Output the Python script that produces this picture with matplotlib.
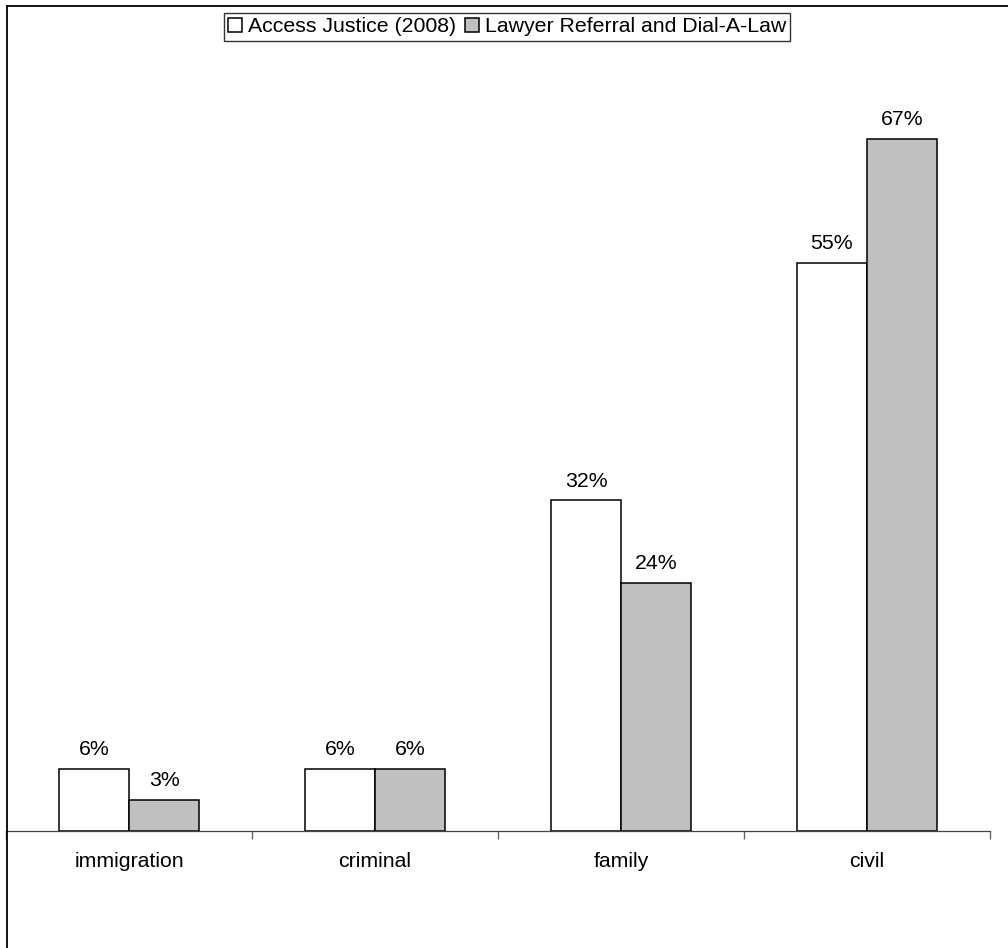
import numpy as np
import matplotlib
matplotlib.use("Agg")
import matplotlib.pyplot as plt
from matplotlib.lines import Line2D

categories = ["immigration", "criminal", "family", "civil"]
access_justice = [6, 6, 32, 55]
lawyer_referral = [3, 6, 24, 67]
series_names = ["Access Justice (2008)", "Lawyer Referral and Dial-A-Law"]

plt.rcParams["font.family"] = ["Liberation Sans", "DejaVu Sans"]
FS = 15.3

W, H = 1008, 948
fig = plt.figure(figsize=(W / 100, H / 100), dpi=100)

# axes placed in pixel terms: baseline at y=831, x from 6 to 990
left, right, base, top = 6, 990, 831, 8
ax = fig.add_axes([left / W, (H - base) / H, (right - left) / W, (base - top) / H])

x = np.arange(len(categories))
bw = 0.285
b1 = ax.bar(x - bw / 2, access_justice, bw, color="white", edgecolor="black", linewidth=1.1, label=series_names[0])
b2 = ax.bar(x + bw / 2, lawyer_referral, bw, color="#c0c0c0", edgecolor="black", linewidth=1.1, label=series_names[1])

for bars, vals in ((b1, access_justice), (b2, lawyer_referral)):
    for r, v in zip(bars, vals):
        ax.annotate(f"{v}%", (r.get_x() + r.get_width() / 2, v), xytext=(0, 7),
                    textcoords="offset points", ha="center", va="bottom", fontsize=FS)

ax.set_xlim(-0.5, len(categories) - 0.5)
ax.set_ylim(0, (base - top) / 10.33)

for s in ("top", "right", "left"):
    ax.spines[s].set_visible(False)
ax.spines["bottom"].set_color("#444444")
ax.spines["bottom"].set_linewidth(0.9)
ax.set_yticks([])

ax.set_xticks(x)
ax.set_xticklabels(categories, fontsize=FS)
ax.tick_params(axis="x", which="major", length=0, pad=15)
ax.set_xticks(np.arange(-0.5, len(categories)), minor=True)
ax.tick_params(axis="x", which="minor", length=6, width=1, color="#666666")

leg = ax.legend(loc="upper center", bbox_to_anchor=(507 / W, 1 - 13 / H), bbox_transform=fig.transFigure,
                ncol=2, fontsize=FS, frameon=True, fancybox=False, handlelength=0.65, handleheight=0.65,
                handletextpad=0.3, columnspacing=0.4, borderpad=0.2, borderaxespad=0)
leg.get_frame().set_edgecolor("black")
leg.get_frame().set_linewidth(1.0)

# outer frame lines (left and top)
fig.add_artist(Line2D([7 / W, 7 / W], [0, 1 - 6 / H], color="black", linewidth=1.3, transform=fig.transFigure))
fig.add_artist(Line2D([7 / W, 1], [1 - 6 / H, 1 - 6 / H], color="black", linewidth=1.3, transform=fig.transFigure))

fig.savefig("out.png", dpi=100)
